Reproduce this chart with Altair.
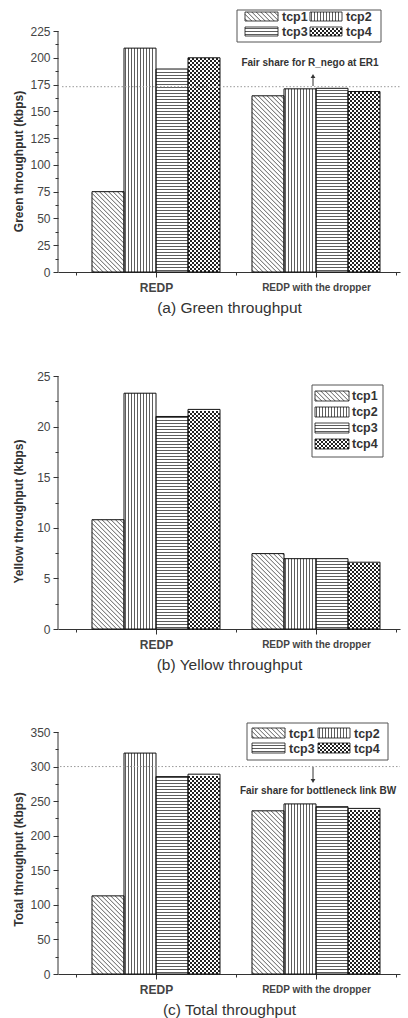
import altair as alt
import pandas as pd

# ---------------- data ----------------
categories = ["REDP", "REDP with the dropper"]
flows = ["tcp1", "tcp2", "tcp3", "tcp4"]

green_redp = [75, 209, 189.5, 200]
green_dropper = [164.5, 171, 171.5, 168.5]
yellow_redp = [10.8, 23.3, 21.0, 21.7]
yellow_dropper = [7.45, 6.95, 6.95, 6.6]
total_redp = [113, 319.5, 285.5, 289]
total_dropper = [236, 246, 242, 239.5]

green_fair = 173
total_fair = 300

y_titles = ["Green throughput (kbps)", "Yellow throughput (kbps)", "Total throughput (kbps)"]
x_titles = ["(a) Green throughput", "(b) Yellow throughput", "(c) Total throughput"]
fair_notes = ["Fair share for R_nego at ER1", "Fair share for bottleneck link BW"]

y_top = [225, 25, 350]
y_major = [25, 5, 50]

# ---------------- layout / style ----------------
FONT = "Liberation Sans"
INK = "#333333"
X0 = 58.0          # plot left (px)
PXX = 160.0        # px per category unit
W = 342
XMIN = 1 - (156 - X0) / PXX
XMAX = XMIN + W / PXX

# per panel: plot height, px per y unit, reference bottom pixel (for overlay placement)
P = [
    dict(H=267, k=241 / 225, bottom=272),
    dict(H=266, k=253 / 25, bottom=626),
    dict(H=254, k=242 / 350, bottom=971),
]
TITLE_Y = [156, 148, 139]


def dx(px):
    return XMIN + (px - X0) / PXX


def dy(py, p):
    return (p["bottom"] - py) / p["k"]


def hatch(x0, x1, y0, y1, kind, k, segs, checks):
    w = (x1 - x0) * PXX
    h = (y1 - y0) * k
    out = []
    if kind == "tcp1":
        step = 4.5
        c = step / 2
        while c < w + h:
            xa = max(0.0, c - h)
            xb = min(w, c)
            if xb > xa:
                out.append((xa, c - xa, xb, c - xb))
            c += step
    elif kind == "tcp2":
        step = 3.0
        d = 1.5
        while d < w - 0.5:
            out.append((d, 0, d, h))
            d += step
    elif kind == "tcp3":
        step = 3.0
        d = 1.5
        while d < h - 0.5:
            out.append((0, d, w, d))
            d += step
    elif kind == "tcp4":
        d = 1.0
        r = 0
        while d + 1 <= h + 0.01:
            checks.append(dict(x=x0, x2=x1, y=y0 + d / k, par=r % 2))
            d += 2.0
            r += 1
    for a, b, c2, d2 in out:
        segs.append(dict(x=x0 + a / PXX, y=y0 + b / k, x2=x0 + c2 / PXX, y2=y0 + d2 / k))


def build_panel(idx, redp, dropper, fair, legend, note):
    p = P[idx]
    k = p["k"]
    ymax = p["H"] / k
    top = y_top[idx]
    major = y_major[idx]

    xs = alt.Scale(domain=[XMIN, XMAX], nice=False, zero=False)
    ys = alt.Scale(domain=[0, ymax], nice=False, zero=False)

    lab_expr = (f"datum.value == 1 ? '{categories[0]}' : "
                f"datum.value == 2 ? '{categories[1]}' : ''")
    xaxis = alt.Axis(
        values=[0.5, 1, 1.5, 2, 2.5], labelExpr=lab_expr, labelOverlap=False,
        labelFont=FONT, labelFontWeight="bold", labelColor="#444",
        labelFontSize={"condition": {"test": "datum.value == 1", "value": 12}, "value": 10},
        labelBaseline="middle", labelPadding=10,
        tickSize={"condition": {"test": "datum.value % 1 == 0", "value": 5}, "value": 3},
        tickColor=INK, domainColor=INK, grid=False,
        title=x_titles[idx], titleFont=FONT, titleFontSize=15.5, titleFontWeight="normal",
        titleColor=INK, titleY=35, titleBaseline="middle",
    )
    yvals = []
    v = 0.0
    while v <= top + 1e-9:
        yvals.append(round(v, 4))
        v += major / 2
    yaxis = alt.Axis(
        values=yvals, labelExpr=f"datum.value % {major} == 0 ? datum.label : ''",
        labelOverlap=False, labelFont=FONT, labelFontSize=12, labelColor="#444",
        labelPadding=3, domain=False, grid=False, tickColor=INK,
        tickSize={"condition": {"test": f"datum.value % {major} == 0", "value": 5}, "value": 3},
        title=y_titles[idx], titleFont=FONT, titleFontSize=12, titleFontWeight="bold",
        titleColor=INK, titleX=-40, titleY=TITLE_Y[idx],
        titleBaseline="middle", titleAlign="center", titleAngle=270,
    )

    def X(f):
        return alt.X(f, type="quantitative", scale=xs, axis=xaxis)

    def Y(f):
        return alt.Y(f, type="quantitative", scale=ys, axis=yaxis)

    # bars
    rows = []
    for ci, vals in enumerate([redp, dropper]):
        for j, fl in enumerate(flows):
            x0 = (ci + 1) - 0.4 + 0.2 * j
            rows.append(dict(cat=categories[ci], flow=fl, x0=x0, x1=x0 + 0.2, v=vals[j], zero=0.0))
    bars = pd.DataFrame(rows)

    segs, checks = [], []
    for r in rows:
        hatch(r["x0"], r["x1"], 0.0, r["v"], r["flow"], k, segs, checks)

    # legend
    lbox, litems = legend
    lrows = []
    for fl, (sx0, sy0, sx1, sy1, tx, ty) in zip(flows, litems):
        lrows.append(dict(flow=fl, x0=dx(sx0), x1=dx(sx1), y0=dy(sy1, p), y1=dy(sy0, p),
                          tx=dx(tx), ty=dy(ty, p)))
        hatch(dx(sx0), dx(sx1), dy(sy1, p), dy(sy0, p), fl, k, segs, checks)
    leg = pd.DataFrame(lrows)
    box = pd.DataFrame([dict(x0=dx(lbox[0]), y0=dy(lbox[3], p), x1=dx(lbox[2]), y1=dy(lbox[1], p))])

    segdf = pd.DataFrame(segs)
    chk = pd.DataFrame(checks)

    layers = []
    layers.append(alt.Chart(bars).mark_rect(fill="white", stroke=None).encode(
        x=X("x0"), x2="x1", y=Y("zero"), y2="v"))
    layers.append(alt.Chart(box).mark_rect(fill="white", stroke="#555", strokeWidth=1).encode(
        x=X("x0"), x2="x1", y=Y("y0"), y2="y1"))
    layers.append(alt.Chart(leg).mark_rect(fill="white", stroke=None).encode(
        x=X("x0"), x2="x1", y=Y("y0"), y2="y1"))
    layers.append(alt.Chart(segdf).mark_rule(stroke=INK, strokeWidth=0.8).encode(
        x=X("x"), y=Y("y"), x2="x2", y2="y2"))
    for par in (0, 1):
        sub = chk[chk["par"] == par]
        layers.append(alt.Chart(sub).mark_rule(
            stroke="#222", strokeWidth=2, strokeDash=[2, 2], strokeDashOffset=2 * par).encode(
            x=X("x"), x2="x2", y=Y("y")))
    layers.append(alt.Chart(bars).mark_rect(filled=False, stroke="#111", strokeWidth=1).encode(
        x=X("x0"), x2="x1", y=Y("zero"), y2="v"))
    layers.append(alt.Chart(leg).mark_rect(filled=False, stroke="#111", strokeWidth=0.8).encode(
        x=X("x0"), x2="x1", y=Y("y0"), y2="y1"))
    layers.append(alt.Chart(leg).mark_text(
        align="left", baseline="middle", font=FONT, fontSize=12.5, fontWeight="bold", color=INK).encode(
        x=X("tx"), y=Y("ty"), text="flow:N"))

    # y axis line
    yl = pd.DataFrame([dict(x=XMIN, y=0.0, y2=float(top))])
    layers.append(alt.Chart(yl).mark_rule(stroke=INK, strokeWidth=1).encode(
        x=X("x"), y=Y("y"), y2="y2"))

    if fair is not None:
        fx0, fx1, (tx, ty), (ax, ay0, ay1, hy, shape) = note
        fl = pd.DataFrame([dict(x=dx(fx0), x2=dx(fx1), y=float(fair))])
        layers.append(alt.Chart(fl).mark_rule(stroke="#999", strokeWidth=1, strokeDash=[1.5, 2]).encode(
            x=X("x"), x2="x2", y=Y("y")))
        txt = pd.DataFrame([dict(x=dx(tx), y=dy(ty, p),
                                 t=fair_notes[0] if idx == 0 else fair_notes[1])])
        layers.append(alt.Chart(txt).mark_text(
            font=FONT, fontSize=10, fontWeight="bold", color=INK, baseline="middle").encode(
            x=X("x"), y=Y("y"), text="t:N"))
        ar = pd.DataFrame([dict(x=dx(ax), y=dy(ay0, p), y2=dy(ay1, p))])
        layers.append(alt.Chart(ar).mark_rule(stroke=INK, strokeWidth=1).encode(
            x=X("x"), y=Y("y"), y2="y2"))
        hd = pd.DataFrame([dict(x=dx(ax), y=dy(hy, p))])
        layers.append(alt.Chart(hd).mark_point(
            shape=shape, filled=True, color=INK, size=22, opacity=1).encode(
            x=X("x"), y=Y("y")))

    return alt.layer(*layers).properties(width=W, height=p["H"])


legA = ((237, 10, 381, 42), [
    (245, 12, 278, 21, 282, 16.5),
    (310, 12, 342, 21, 346, 16.5),
    (245, 27, 278, 36, 282, 31.5),
    (310, 27, 342, 36, 346, 31.5),
])
legB = ((312, 382, 383, 454), [
    (315, 388 + 16 * i, 349, 398 + 16 * i, 352, 393 + 16 * i) for i in range(4)
])
legC = ((247, 720, 388, 757), [
    (252, 725, 285, 735, 289, 730.5),
    (318, 725, 350, 735, 354, 730.5),
    (252, 740, 285, 750, 289, 745.5),
    (318, 740, 350, 750, 354, 745.5),
])

noteA = (62, 400, (310, 63), (313, 86, 77, 76, "triangle-up"))
noteC = (60, 400, (318, 788), (313, 764, 776, 778, "triangle-down"))

pa = build_panel(0, green_redp, green_dropper, green_fair, legA, noteA)
pb = build_panel(1, yellow_redp, yellow_dropper, None, legB, None)
pc = build_panel(2, total_redp, total_dropper, total_fair, legC, noteC)

chart = alt.vconcat(pa, pb, pc, spacing=47).properties(
    padding={"left": 12, "top": 5, "right": 3, "bottom": 2},
    background="white",
).configure_view(stroke=None)

chart.save("out.html", embed_options={"renderer": "svg", "actions": False})
